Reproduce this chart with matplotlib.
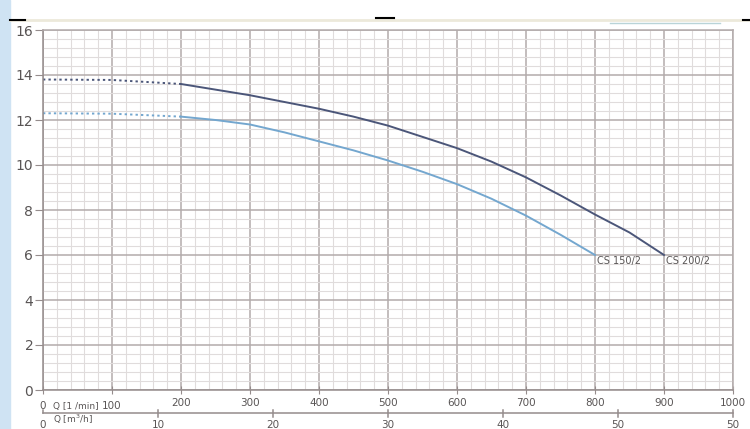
import matplotlib.pyplot as plt
from matplotlib.ticker import MultipleLocator
from matplotlib.patches import Rectangle
from matplotlib.lines import Line2D
from matplotlib.transforms import blended_transform_factory

# pump curves: Q [l/min] vs head
q_200_dot = [0, 100, 200]
h_200_dot = [13.8, 13.78, 13.6]
q_200 = [200, 250, 300, 350, 400, 450, 500, 550, 600, 650, 700, 750, 800, 850, 900]
h_200 = [13.6, 13.35, 13.1, 12.8, 12.5, 12.15, 11.75, 11.25, 10.75, 10.15, 9.45, 8.65, 7.8, 7.0, 6.0]

q_150_dot = [0, 100, 200]
h_150_dot = [12.3, 12.28, 12.15]
q_150 = [200, 250, 300, 350, 400, 450, 500, 550, 600, 650, 700, 750, 800]
h_150 = [12.15, 12.0, 11.8, 11.45, 11.05, 10.65, 10.2, 9.7, 9.15, 8.5, 7.75, 6.9, 6.0]

# second scale m3/h (as printed, the last label reads 50)
m3_ticks = [10, 20, 30, 40, 50, 60]
m3_labels = ["10", "20", "30", "40", "50", "50"]

DARK = "#4b5679"
LIGHT = "#74a7cf"
TXT = "#595555"
AXC = "#958c8c"

W, H = 750, 429


def fy(py):
    # pixel row from top -> figure fraction
    return 1 - py / H


fig = plt.figure(figsize=(7.5, 4.29), dpi=100)
fig.patch.set_facecolor("white")

# light blue strip on the left edge + header decorations
fig.add_artist(Rectangle((0, 0), 10 / W, 1, transform=fig.transFigure,
                         color="#cfe3f3", zorder=0))
fig.add_artist(Line2D([10 / W, 1], [fy(20)] * 2, transform=fig.transFigure,
                      color="#ece9da", lw=2))
fig.add_artist(Line2D([10 / W, 25 / W], [fy(20)] * 2, transform=fig.transFigure,
                      color="black", lw=1.5))
fig.add_artist(Line2D([376 / W, 394 / W], [fy(18)] * 2, transform=fig.transFigure,
                      color="black", lw=1.5))
fig.add_artist(Line2D([743 / W, 1], [fy(20)] * 2, transform=fig.transFigure,
                      color="black", lw=1.5))
fig.add_artist(Line2D([610 / W, 720 / W], [fy(23)] * 2, transform=fig.transFigure,
                      color="#b9d4d8", lw=1))

ax = fig.add_axes([43 / W, 39 / H, 690 / W, 360 / H])
ax.set_xlim(0, 1000)
ax.set_ylim(0, 16)

ax.xaxis.set_major_locator(MultipleLocator(100))
ax.xaxis.set_minor_locator(MultipleLocator(20))
ax.yaxis.set_major_locator(MultipleLocator(2))
ax.yaxis.set_minor_locator(MultipleLocator(0.4))
ax.grid(which="minor", color="#e0dcdc", lw=0.8)
ax.grid(which="major", color="#b3abab", lw=1.1)
ax.set_axisbelow(True)
for s in ax.spines.values():
    s.set_color("#b3abab")
    s.set_linewidth(1.1)
ax.spines["left"].set_color(AXC)
ax.spines["bottom"].set_color(AXC)

ax.tick_params(which="minor", length=0)
ax.tick_params(axis="y", which="major", length=6, color=AXC,
               labelsize=10, labelcolor=TXT, pad=1)
ax.tick_params(axis="x", which="major", length=6, direction="inout", color=AXC,
               labelsize=7.5, labelcolor=TXT, pad=3)
xlabels = ["" if v in (0, 100) else str(v) for v in range(0, 1001, 100)]
ax.set_xticks(range(0, 1001, 100))
ax.set_xticklabels(xlabels)

ax.plot(q_200_dot, h_200_dot, color=DARK, lw=1.4, ls=(0, (1.2, 1.6)))
ax.plot(q_200, h_200, color=DARK, lw=1.4)
ax.plot(q_150_dot, h_150_dot, color=LIGHT, lw=1.4, ls=(0, (1.2, 1.6)))
ax.plot(q_150, h_150, color=LIGHT, lw=1.4)

ax.text(q_150[-1] + 3, h_150[-1] - 0.05, "CS 150/2", fontsize=7, color=TXT, va="top")
ax.text(q_200[-1] + 3, h_200[-1] - 0.05, "CS 200/2", fontsize=7, color=TXT, va="top")

# labels of the l/min scale, data x, figure y
tr = blended_transform_factory(ax.transData, fig.transFigure)
ax.text(0, fy(406), "0", fontsize=7.5, color=TXT, ha="center", va="center",
        transform=tr, clip_on=False)
ax.text(15, fy(406), "Q [1 /min]", fontsize=6.5, color=TXT, ha="left", va="center",
        transform=tr, clip_on=False)
ax.text(100, fy(406), "100", fontsize=7.5, color=TXT, ha="center", va="center",
        transform=tr, clip_on=False)

# second scale: m3/h, 1000 l/min = 60 m3/h
y_line = fy(413)
ax.add_line(Line2D([0, 1000], [y_line, y_line], transform=tr, color=AXC,
                   lw=1.1, clip_on=False))
ax.add_line(Line2D([0, 0], [y_line, fy(410)], transform=tr, color=AXC,
                   lw=1.1, clip_on=False))
for v, lab in zip(m3_ticks, m3_labels):
    x = v * 1000 / 60
    ax.add_line(Line2D([x, x], [fy(410), fy(417)], transform=tr, color=AXC,
                       lw=1.1, clip_on=False))
    ax.text(x, fy(425), lab, fontsize=7.5, color=TXT, ha="center", va="center",
            transform=tr, clip_on=False)
ax.text(0, fy(425), "0", fontsize=7.5, color=TXT, ha="center", va="center",
        transform=tr, clip_on=False)
ax.text(15, fy(419), "Q [m$^3$/h]", fontsize=6.5, color=TXT, ha="left", va="center",
        transform=tr, clip_on=False)

fig.savefig("out.png", dpi=100)
